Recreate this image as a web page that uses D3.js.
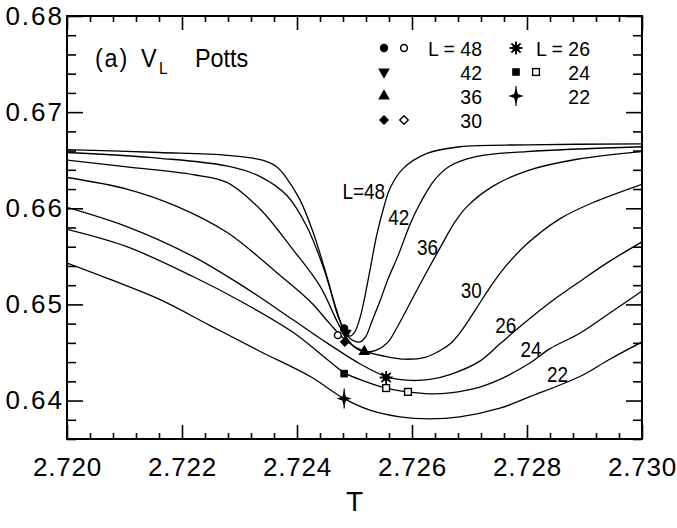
<!DOCTYPE html>
<html>
<head>
<meta charset="utf-8">
<script src="https://cdn.jsdelivr.net/npm/d3@7"></script>
<style>
  html, body { margin: 0; padding: 0; background: #fff; }
  svg { display: block; }
</style>
</head>
<body>
<svg id="chart" width="677" height="528"></svg>
<script>
// Lattice sizes and the V_L(T) curves for each one (T, V_L pairs)
const sizes = [48, 42, 36, 30, 26, 24, 22];

const curveL48 = [[2.7200,0.6661],[2.7216,0.6658],[2.7228,0.6655],[2.7234,0.6650],[2.72365,0.6643],[2.7238,0.6633],[2.72405,0.6609],[2.72428,0.6575],[2.72452,0.6529],[2.7247,0.6490],[2.72482,0.6474],[2.72492,0.6467],[2.72501,0.6472],[2.7251,0.6487],[2.72517,0.6505],[2.72527,0.6536],[2.72539,0.6573],[2.7255,0.6599],[2.72562,0.6621],[2.72584,0.6641],[2.72626,0.6657],[2.72683,0.6664],[2.7280,0.6666],[2.7300,0.6667]];
const curveL42 = [[2.7200,0.6658],[2.72162,0.6652],[2.72278,0.6644],[2.72336,0.6633],[2.72383,0.6613],[2.72417,0.6581],[2.72445,0.6540],[2.7247,0.6492],[2.72482,0.6472],[2.72496,0.6463],[2.7251,0.6461],[2.7252,0.6467],[2.7253,0.6482],[2.72544,0.6503],[2.72558,0.6526],[2.72576,0.6551],[2.72597,0.6584],[2.72614,0.6605],[2.7264,0.6630],[2.72666,0.6644],[2.72713,0.6654],[2.7280,0.6659],[2.7300,0.6664]];
const curveL36 = [[2.7200,0.6650],[2.72104,0.6643],[2.72219,0.6635],[2.72278,0.6627],[2.72336,0.6599],[2.72393,0.6557],[2.7244,0.6519],[2.7247,0.6482],[2.72482,0.6469],[2.72501,0.6455],[2.72518,0.6451],[2.72536,0.6452],[2.72557,0.6460],[2.72574,0.6476],[2.72591,0.6495],[2.72614,0.6521],[2.72649,0.6559],[2.72675,0.6586],[2.72696,0.6602],[2.72741,0.6623],[2.7280,0.6639],[2.72887,0.6651],[2.7300,0.6659]];
const curveL30 = [[2.7200,0.6632],[2.72104,0.6620],[2.72191,0.6602],[2.72278,0.6575],[2.72365,0.6533],[2.72423,0.6503],[2.72457,0.6480],[2.72482,0.6464],[2.7251,0.6453],[2.72553,0.6446],[2.72588,0.6443],[2.72623,0.6445],[2.72649,0.6452],[2.7267,0.6461],[2.72689,0.6475],[2.7271,0.6494],[2.72736,0.6518],[2.72762,0.6539],[2.7280,0.6563],[2.72857,0.6589],[2.72915,0.6606],[2.7300,0.6625]];
const curveL26 = [[2.7200,0.6601],[2.72104,0.6581],[2.72219,0.6550],[2.72306,0.6519],[2.72393,0.6484],[2.72452,0.6460],[2.7251,0.6438],[2.72555,0.6425],[2.72597,0.6421],[2.72631,0.6422],[2.72666,0.6427],[2.72718,0.6441],[2.72753,0.6459],[2.72788,0.6477],[2.7284,0.6502],[2.72897,0.6526],[2.72944,0.6545],[2.7300,0.6565]];
const curveL24 = [[2.7200,0.6578],[2.72104,0.6560],[2.72219,0.6529],[2.72306,0.6502],[2.72393,0.6471],[2.72452,0.6443],[2.72482,0.6429],[2.72518,0.6420],[2.72555,0.6413],[2.72593,0.6409],[2.72631,0.6407],[2.72666,0.6408],[2.72718,0.6414],[2.72753,0.6422],[2.72805,0.6439],[2.7284,0.6454],[2.72892,0.6470],[2.72944,0.6491],[2.7300,0.6514]];
const curveL22 = [[2.7200,0.6543],[2.72075,0.6526],[2.72162,0.6505],[2.72249,0.6478],[2.72336,0.6451],[2.72423,0.6425],[2.72482,0.6402],[2.72527,0.6390],[2.72579,0.6383],[2.72631,0.6381],[2.72683,0.6383],[2.72753,0.6392],[2.72805,0.6404],[2.72892,0.6425],[2.72944,0.6443],[2.7300,0.6461]];
const curves = [curveL48, curveL42, curveL36, curveL30, curveL26, curveL24, curveL22];

// Simulation points: lattice size, temperature, V_L and symbol
const pointL   = [48, 48, 42, 30, 36, 26, 24, 24, 24, 22];
const pointT   = [2.72482, 2.72471, 2.72485, 2.72483, 2.72517, 2.72555, 2.72482, 2.72555, 2.72593, 2.72482];
const pointV   = [0.6475, 0.6468, 0.6470, 0.6461, 0.6451, 0.6424, 0.6428, 0.6413, 0.6409, 0.6402];
const pointSym = ["dot", "circle", "tridown", "diamond", "triup", "asterisk", "square", "squareOpen", "squareOpen", "star"];

// Curve labels, placed next to each curve (T, V of label anchor)
const labelText = ["L=48", "42", "36", "30", "26", "24", "22"];
const labelT    = [2.72553, 2.72577, 2.72627, 2.72703, 2.72763, 2.72807, 2.72853];
const labelV    = [0.66094, 0.65823, 0.65510, 0.65062, 0.64698, 0.64458, 0.64198];

// Axis ticks
const xMajor = [2.720, 2.722, 2.724, 2.726, 2.728, 2.730];
const yMajor = [0.64, 0.65, 0.66, 0.67, 0.68];

// Legend entries
const legendLeftSyms  = [["dot", "circle"], ["tridown"], ["triup"], ["diamond", "diamondOpen"]];
const legendLeftText  = ["L = 48", "42", "36", "30"];
const legendRightSyms = [["asterisk"], ["square", "squareOpen"], ["star"]];
const legendRightText = ["L = 26", "24", "22"];

const svg = d3.select("#chart");
const W = 677, H = 528;
const plot = { left: 67, right: 642, top: 16, bottom: 439 };

const x = d3.scaleLinear().domain([2.720, 2.730]).range([plot.left, plot.right]);
const y = d3.scaleLinear().domain([0.636, 0.680]).range([plot.bottom, plot.top]);

const tickFont = "'Liberation Sans', Arial, sans-serif";
const textFont = "'Liberation Sans', Arial, sans-serif";

svg.append("rect").attr("width", W).attr("height", H).attr("fill", "#fff");

// minor tick values
const xMinor = d3.range(0, 26).map(i => +(2.720 + i * 0.0004).toFixed(4))
  .filter(v => !xMajor.some(m => Math.abs(m - v) < 1e-7));
const yMinor = d3.range(0, 23).map(i => +(0.636 + i * 0.002).toFixed(3))
  .filter(v => !yMajor.some(m => Math.abs(m - v) < 1e-7));

function styleAxis(g) {
  g.select(".domain").remove();
  g.selectAll(".tick line").attr("stroke", "#000").attr("stroke-width", 1.6);
}

// bottom axis: labels and inward ticks
svg.append("g").attr("transform", `translate(0,${plot.bottom})`)
  .call(d3.axisBottom(x).tickValues(xMajor).tickFormat(d3.format(".3f")).tickSize(-14).tickPadding(19))
  .call(styleAxis)
  .call(g => g.selectAll("text").attr("font-family", tickFont).attr("font-size", 26)
    .attr("letter-spacing", 0.8).attr("fill", "#000"));
svg.append("g").attr("transform", `translate(0,${plot.bottom})`)
  .call(d3.axisBottom(x).tickValues(xMinor).tickFormat("").tickSize(-6))
  .call(styleAxis);
// top axis
svg.append("g").attr("transform", `translate(0,${plot.top})`)
  .call(d3.axisTop(x).tickValues(xMajor).tickFormat("").tickSize(-14))
  .call(styleAxis);
svg.append("g").attr("transform", `translate(0,${plot.top})`)
  .call(d3.axisTop(x).tickValues(xMinor).tickFormat("").tickSize(-6))
  .call(styleAxis);
// left axis
svg.append("g").attr("transform", `translate(${plot.left},0)`)
  .call(d3.axisLeft(y).tickValues(yMajor).tickFormat(d3.format(".2f")).tickSize(-16).tickPadding(3))
  .call(styleAxis)
  .call(g => g.selectAll("text").attr("font-family", tickFont).attr("font-size", 26)
    .attr("letter-spacing", 2).attr("fill", "#000"));
svg.append("g").attr("transform", `translate(${plot.left},0)`)
  .call(d3.axisLeft(y).tickValues(yMinor).tickFormat("").tickSize(-9))
  .call(styleAxis);
// right axis
svg.append("g").attr("transform", `translate(${plot.right},0)`)
  .call(d3.axisRight(y).tickValues(yMajor).tickFormat("").tickSize(-16))
  .call(styleAxis);
svg.append("g").attr("transform", `translate(${plot.right},0)`)
  .call(d3.axisRight(y).tickValues(yMinor).tickFormat("").tickSize(-9))
  .call(styleAxis);

// frame
svg.append("rect")
  .attr("x", plot.left).attr("y", plot.top)
  .attr("width", plot.right - plot.left).attr("height", plot.bottom - plot.top)
  .attr("fill", "none").attr("stroke", "#000").attr("stroke-width", 2);

// axis title
svg.append("text").attr("x", (plot.left + plot.right) / 2).attr("y", 511)
  .attr("text-anchor", "middle").attr("font-family", tickFont).attr("font-size", 28)
  .text("T");

// curves
svg.append("clipPath").attr("id", "plotClip").append("rect")
  .attr("x", plot.left).attr("y", plot.top)
  .attr("width", plot.right - plot.left).attr("height", plot.bottom - plot.top);

const line = d3.line().x(d => x(d[0])).y(d => y(d[1])).curve(d3.curveCatmullRom.alpha(0.5));
svg.append("g").attr("clip-path", "url(#plotClip)")
  .selectAll("path").data(curves).join("path")
  .attr("d", line).attr("fill", "none").attr("stroke", "#000").attr("stroke-width", 1.3);

// condensed text: the lettering is narrower than the stock sans face
function ctext(g, str, cx, cy, size, anchor, sx) {
  return g.append("text")
    .attr("transform", `translate(${cx},${cy}) scale(${sx},1)`)
    .attr("text-anchor", anchor).attr("font-family", textFont)
    .attr("font-size", size).attr("fill", "#000").text(str);
}

// symbol drawing
function drawSymbol(g, sym, cx, cy) {
  const s = g.append("g").attr("transform", `translate(${cx},${cy})`);
  switch (sym) {
    case "dot":
      s.append("circle").attr("r", 4.2).attr("fill", "#000"); break;
    case "circle":
      s.append("circle").attr("r", 3.4).attr("fill", "#fff").attr("stroke", "#000").attr("stroke-width", 1.5); break;
    case "triup":
      s.append("path").attr("d", d3.symbol(d3.symbolTriangle, 60)()).attr("fill", "#000"); break;
    case "tridown":
      s.append("path").attr("d", d3.symbol(d3.symbolTriangle, 60)()).attr("transform", "rotate(180)").attr("fill", "#000"); break;
    case "diamond":
      s.append("path").attr("d", d3.symbol(d3.symbolSquare, 50)()).attr("transform", "rotate(45)").attr("fill", "#000"); break;
    case "diamondOpen":
      s.append("path").attr("d", d3.symbol(d3.symbolSquare, 36)()).attr("transform", "rotate(45)")
        .attr("fill", "#fff").attr("stroke", "#000").attr("stroke-width", 1.4); break;
    case "square":
      s.append("rect").attr("x", -3.8).attr("y", -3.8).attr("width", 7.6).attr("height", 7.6).attr("fill", "#000"); break;
    case "squareOpen":
      s.append("rect").attr("x", -3.4).attr("y", -3.4).attr("width", 6.8).attr("height", 6.8)
        .attr("fill", "#fff").attr("stroke", "#000").attr("stroke-width", 1.4); break;
    case "asterisk":
      d3.range(8).forEach(i => {
        const a = i * Math.PI / 4;
        s.append("line").attr("x1", 0).attr("y1", 0)
          .attr("x2", 6.5 * Math.cos(a)).attr("y2", 6.5 * Math.sin(a))
          .attr("stroke", "#000").attr("stroke-width", 1.8);
      });
      s.append("circle").attr("r", 3.6).attr("fill", "#000"); break;
    case "star":
      s.append("path").attr("d", "M0,-8.5L1.9,-1.9L7.5,0L1.9,1.9L0,8.5L-1.9,1.9L-7.5,0L-1.9,-1.9Z").attr("fill", "#000");
      s.append("line").attr("x1", 0).attr("x2", 0).attr("y1", -10).attr("y2", 10)
        .attr("stroke", "#000").attr("stroke-width", 1.2); break;
  }
}

// simulation points
const pts = svg.append("g");
pointT.forEach((t, i) => drawSymbol(pts, pointSym[i], x(t), y(pointV[i])));

// curve labels
const labels = svg.append("g");
labelText.forEach((str, i) =>
  ctext(labels, str, x(labelT[i]), y(labelV[i]), 22, i === 0 ? "end" : "middle", 0.86));

// legend
const legend = svg.append("g");
const rowY = [48, 72, 96, 120];
legendLeftSyms.forEach((syms, i) => {
  syms.forEach((sym, j) => drawSymbol(legend, sym, 384 + j * 20, rowY[i]));
  ctext(legend, legendLeftText[i], 482, rowY[i] + 7.8, 20.5, "end", 0.95);
});
legendRightSyms.forEach((syms, i) => {
  syms.forEach((sym, j) => drawSymbol(legend, sym, 516 + j * 20, rowY[i]));
  ctext(legend, legendRightText[i], 590, rowY[i] + 7.8, 20.5, "end", 0.95);
});

// panel title
const title = svg.append("g");
ctext(title, "(a)", 95, 67, 26, "start", 0.9).attr("letter-spacing", 2);
ctext(title, "V", 141, 67, 26, "start", 0.9);
ctext(title, "L", 159, 74, 17, "start", 0.9);
ctext(title, "Potts", 195, 67, 26, "start", 0.9);
</script>
</body>
</html>
